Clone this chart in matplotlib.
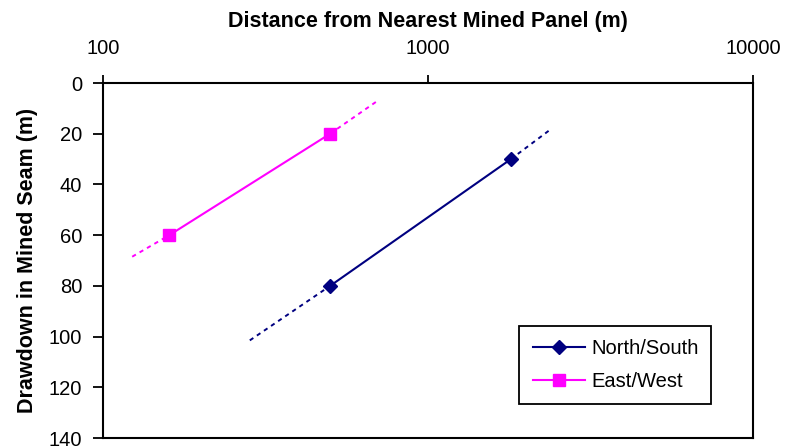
import matplotlib
matplotlib.use("Agg")
import matplotlib.pyplot as plt
from matplotlib.ticker import FixedLocator, FixedFormatter, NullLocator

plt.rcParams['font.family'] = ['Liberation Sans', 'DejaVu Sans']

# Data
ns_dist = [500, 1800]
ns_draw = [80, 30]
ew_dist = [160, 500]
ew_draw = [60, 20]
# Extrapolated (dashed) trend-line end points
ns_ext_dist = [283, 2400]
ns_ext_draw = [101.5, 18]
ew_ext_dist = [123, 700]
ew_ext_draw = [68.5, 7]

x_ticks = [100, 1000, 10000]
x_labels = ["100", "1000", "10000"]
y_ticks = [0, 20, 40, 60, 80, 100, 120, 140]

NAVY = "#000080"
MAGENTA = "#FF00FF"

fig = plt.figure(figsize=(7.86, 4.48), dpi=100)
ax = fig.add_axes([0.131, 0.0223, 0.827, 0.7924])

dash = (0, (2.2, 2.2))
# dashed extensions: low end -> first point, last point -> high end
ax.plot([ns_ext_dist[0], ns_dist[0]], [ns_ext_draw[0], ns_draw[0]], color=NAVY, lw=1.4, ls=dash)
ax.plot([ns_dist[-1], ns_ext_dist[1]], [ns_draw[-1], ns_ext_draw[1]], color=NAVY, lw=1.4, ls=dash)
ax.plot([ew_ext_dist[0], ew_dist[0]], [ew_ext_draw[0], ew_draw[0]], color=MAGENTA, lw=1.4, ls=dash)
ax.plot([ew_dist[-1], ew_ext_dist[1]], [ew_draw[-1], ew_ext_draw[1]], color=MAGENTA, lw=1.4, ls=dash)

ax.plot(ns_dist, ns_draw, color=NAVY, lw=1.5, marker='D', ms=7, label="North/South")
ax.plot(ew_dist, ew_draw, color=MAGENTA, lw=1.5, marker='s', ms=9, label="East/West")

ax.set_xscale('log')
ax.set_xlim(100, 10000)
ax.set_ylim(140, 0)
ax.xaxis.set_major_locator(FixedLocator(x_ticks))
ax.xaxis.set_major_formatter(FixedFormatter(x_labels))
ax.xaxis.set_minor_locator(NullLocator())
ax.set_yticks(y_ticks)
ax.xaxis.tick_top()
ax.xaxis.set_label_position('top')
ax.tick_params(axis='x', direction='out', length=6, width=1.3, labelsize=14.5, pad=12)
ax.tick_params(axis='y', direction='out', length=7, width=1.3, labelsize=14.5, pad=8)
for s in ax.spines.values():
    s.set_linewidth(1.5)
    s.set_color('black')

ax.set_xlabel("Distance from Nearest Mined Panel (m)", fontsize=15.5, fontweight='bold', labelpad=9)
ax.set_ylabel("Drawdown in Mined Seam (m)", fontsize=15.5, fontweight='bold', labelpad=8)

leg = ax.legend(loc='lower right', bbox_to_anchor=(0.936, 0.096), borderaxespad=0,
                fontsize=14.5, frameon=True, fancybox=False, edgecolor='black', framealpha=1,
                handlelength=2.6, borderpad=0.65, labelspacing=0.7, handletextpad=0.3)
leg.get_frame().set_linewidth(1.3)

fig.savefig("out.png", dpi=100)
